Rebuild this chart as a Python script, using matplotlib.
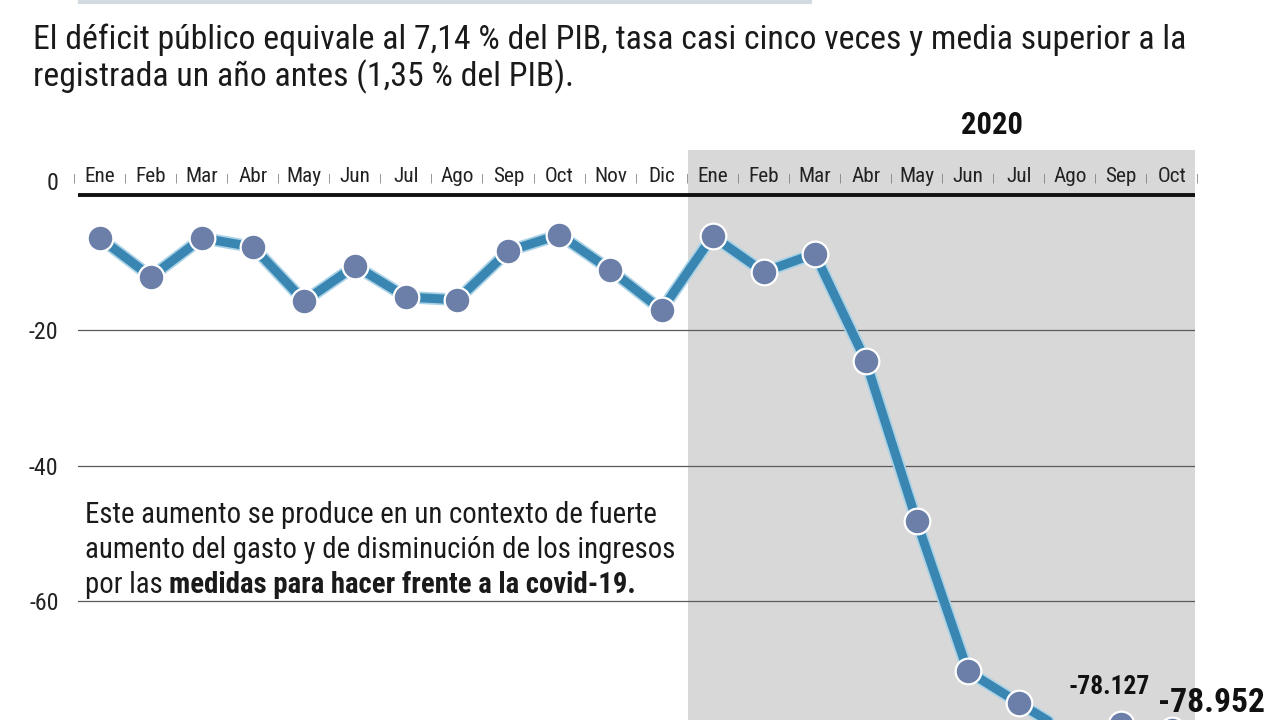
import numpy as np
import matplotlib
matplotlib.use('Agg')
import matplotlib.pyplot as plt
import matplotlib.patheffects as pe
from matplotlib.lines import Line2D
from matplotlib import font_manager as fm

# pick a narrow sans if one is installed, else Liberation Sans
names = {f.name for f in fm.fontManager.ttflist}
narrow = None
for cand in ['Liberation Sans Narrow', 'Roboto Condensed', 'Arial Narrow', 'Open Sans Condensed',
             'DejaVu Sans Condensed', 'Noto Sans Condensed']:
    if cand in names:
        narrow = cand
        break
stretch = 'normal'
if narrow is None:
    cond = [f for f in fm.fontManager.ttflist
            if f.name == 'DejaVu Sans' and str(f.stretch) in ('condensed', '500', 'semi-condensed')]
    if cond:
        narrow, stretch = 'DejaVu Sans', 'condensed'
    else:
        narrow = 'Liberation Sans'
plt.rcParams['font.family'] = [narrow, 'DejaVu Sans']
plt.rcParams['font.stretch'] = stretch

# monthly values (2019 Ene .. 2020 Oct)
months = ['Ene', 'Feb', 'Mar', 'Abr', 'May', 'Jun', 'Jul', 'Ago', 'Sep', 'Oct', 'Nov', 'Dic',
          'Ene', 'Feb', 'Mar', 'Abr', 'May', 'Jun', 'Jul', 'Ago', 'Sep', 'Oct']
values = [-6.4, -12.1, -6.4, -7.7, -15.7, -10.5, -15.1, -15.5, -8.3, -5.9, -11.1, -17.0,
          -6.1, -11.4, -8.7, -24.5, -48.2, -70.3, -75.0, -79.6, -78.127, -78.952]
yticks = [0, -20, -40, -60]
year_label = '2020'
label_sep = '-78.127'
label_oct = '-78.952'

title1 = 'El déficit público equivale al 7,14 % del PIB, tasa casi cinco veces y media superior a la'
title2 = 'registrada un año antes (1,35 % del PIB).'
note_lines = ['Este aumento se produce en un contexto de fuerte',
              'aumento del gasto y de disminución de los ingresos']
note_plain = 'por las '
note_bold = 'medidas para hacer frente a la covid-19.'

W, H = 1280, 720
fig = plt.figure(figsize=(12.8, 7.2), dpi=100)
fig.patch.set_facecolor('white')
renderer = fig.canvas.get_renderer()


def fit(txt, width_px):
    # scale a text so that it is width_px wide
    for _ in range(3):
        w = txt.get_window_extent(renderer).width
        txt.set_fontsize(txt.get_fontsize() * width_px / w)
    return txt.get_fontsize()


# axes placed in pixel terms: left 78, right 1195, top 150, bottom 720
ax = fig.add_axes([78 / W, 0, (1195 - 78) / W, 570 / H])
ax.set_facecolor('white')
x = np.arange(len(months))
ax.set_xlim(-0.431, 21.45)
ax.set_ylim(-77.5, 6.6)

# grey band for 2020
ax.axvspan(11.52, 21.45, color='#d8d8d8', zorder=0, lw=0)

# grid lines + zero line
for yv in yticks[1:]:
    ax.axhline(yv, color='#5a5a5a', lw=0.9, zorder=1)
ax.axhline(0, color='#111111', lw=2.8, zorder=2)

# series
ax.plot(x, values, color='#3a86b2', lw=6.5, zorder=3, solid_capstyle='round',
        path_effects=[pe.Stroke(linewidth=9, foreground='#a9d2e6'), pe.Normal()])
ax.plot(x, values, linestyle='none', marker='o', markersize=18.5,
        markerfacecolor='#6b7fa9', markeredgecolor='white', markeredgewidth=1.6, zorder=4)

# month labels and separators on top
mt = ax.text(2, 2.7, 'May', fontsize=15)
msize = fit(mt, 35)
mt.remove()
for i, m in enumerate(months):
    ax.text(i, 2.7, m, ha='center', va='center', fontsize=msize, color='#222222', zorder=5)
    ax.text(i - 0.5, 2.4, '|', ha='center', va='center', fontsize=8, color='#777777', zorder=5)
ax.text(21.5, 2.4, '|', ha='center', va='center', fontsize=8, color='#777777', clip_on=False)

yr = ax.text(17.47, 10.3, year_label, ha='center', va='center', fontsize=19, fontweight='bold',
             color='#111111', clip_on=False)
fit(yr, 62)

# y labels
ax.set_yticks(yticks)
ax.set_yticklabels([str(v) for v in yticks], fontsize=msize + 2, color='#222222')
ax.tick_params(axis='y', length=0, pad=14)
ax.get_yticklabels()[0].set_verticalalignment('bottom')
ax.set_xticks([])
for s in ax.spines.values():
    s.set_visible(False)

# value labels
ls = ax.text(19.77, -72.6, label_sep, ha='center', va='center', fontsize=18, fontweight='bold',
             color='#111111', zorder=6)
fit(ls, 81)
lo = ax.text(20.72, -75.0, label_oct, ha='left', va='center', fontsize=24, fontweight='bold',
             color='#111111', clip_on=False, zorder=6)
fit(lo, 107)

# header
fig.add_artist(Line2D([80 / W, 810 / W], [1 - 2 / H, 1 - 2 / H], color='#d3dbe0', lw=3))
t1 = fig.text(33 / W, 1 - 40 / H, title1, ha='left', va='center', fontsize=22, color='#1a1a1a')
tsize = fit(t1, 1152)
fig.text(33 / W, 1 - 77 / H, title2, ha='left', va='center', fontsize=tsize, color='#1a1a1a')

# note
n0 = fig.text(85 / W, 1 - 515 / H, note_lines[0], ha='left', va='center', fontsize=18,
              color='#1a1a1a')
n1 = fig.text(85 / W, 1 - 550 / H, note_lines[1], ha='left', va='center', fontsize=18,
              color='#1a1a1a')
nsize = fit(n1, 588)
n0.set_fontsize(nsize)
t = fig.text(85 / W, 1 - 585 / H, note_plain, ha='left', va='center', fontsize=nsize,
             color='#1a1a1a')
ax.annotate(note_bold, xy=(1, 0.5), xycoords=t, ha='left', va='center', fontsize=nsize,
            fontweight='bold', color='#1a1a1a', annotation_clip=False)

fig.savefig('out.png', dpi=100)
